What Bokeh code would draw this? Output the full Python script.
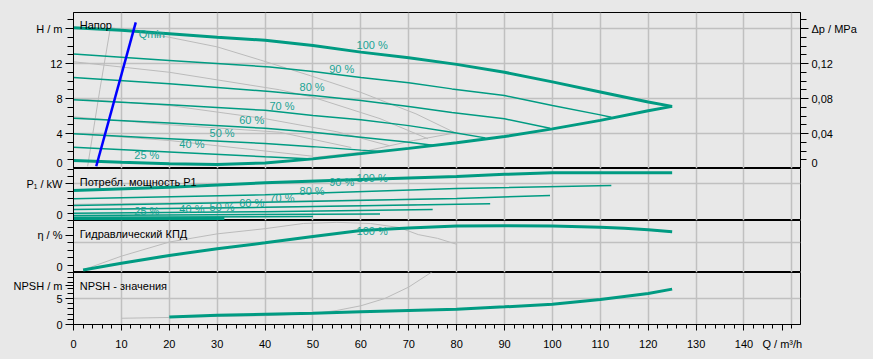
from bokeh.plotting import figure
from bokeh.models import Range1d, LinearAxis, FixedTicker, Grid, Label
from bokeh.layouts import column
from bokeh.embed import file_html
from bokeh.resources import INLINE

# ---------------- data ----------------
speed_labels = ["100 %", "90 %", "80 %", "70 %", "60 %", "50 %", "40 %", "25 %"]

# H-Q curves (Q in m3/h, H in m)
q_h100 = [0, 10, 20, 30, 40, 50, 60, 70, 80, 90, 100, 110, 120, 125]
h_h100 = [16.1, 15.8, 15.4, 15.0, 14.65, 14.05, 13.3, 12.65, 11.9, 11.0, 9.9, 8.75, 7.6, 7.1]
q_h90 = [0, 20, 41, 50, 60, 70, 79, 90, 100, 110, 112.3]
h_h90 = [13.1, 12.35, 11.6, 11.1, 10.4, 9.8, 9.1, 8.34, 7.2, 6.13, 5.87]
q_h80 = [0, 20, 41, 50, 60, 70, 79, 90, 99.5]
h_h80 = [10.4, 9.7, 8.8, 8.34, 7.77, 7.09, 6.4, 5.68, 4.6]
q_h70 = [0, 20, 40, 50, 60, 70, 79, 86]
h_h70 = [7.85, 7.3, 6.65, 6.06, 5.56, 4.9, 4.15, 3.5]
q_h60 = [0, 20, 40, 50, 60, 70, 75]
h_h60 = [5.75, 5.2, 4.6, 4.15, 3.58, 3.0, 2.65]
q_h50 = [0, 20, 40, 50, 60, 64]
h_h50 = [3.96, 3.4, 2.85, 2.5, 2.1, 1.95]
q_h40 = [0, 20, 40, 50]
h_h40 = [2.43, 1.9, 1.35, 1.1]
# 25 % curve joined with the max-flow limit
q_hmin = [0, 10, 20, 30, 40, 50, 60, 70, 80, 90, 100, 110, 120, 125]
h_hmin = [0.91, 0.72, 0.55, 0.46, 0.64, 1.1, 1.7, 2.3, 2.95, 3.65, 4.53, 5.5, 6.6, 7.1]
# Qmin line
q_qmin = [4.75, 13.0]
h_qmin = [0.26, 16.7]

# grey reference curves in the H panel
q_g_v = [7.7, 5.5, 2.95]
h_g_v = [16.1, 9.0, 0.25]
q_g1 = [7.7, 20, 30, 39, 49.5, 60, 71.5, 80]
h_g1 = [16.1, 15.0, 13.9, 12.4, 10.6, 8.7, 6.25, 4.0]
q_g2 = [0, 20, 43, 50, 64, 74]
h_g2 = [12.2, 11.0, 9.0, 8.15, 5.7, 3.4]
q_g3 = [0, 20, 40, 55, 66]
h_g3 = [8.0, 7.2, 5.7, 4.2, 2.6]
q_g4 = [0, 20, 43, 58]
h_g4 = [5.9, 5.0, 4.15, 2.4]
q_g5 = [0, 20, 40, 50]
h_g5 = [4.0, 3.2, 2.0, 1.4]
q_genv = [50, 60, 71, 80]
h_genv = [1.25, 1.87, 3.2, 4.1]

# power P1 (kW)
q_p100 = [0, 20, 40, 60, 70, 80, 90, 100, 125]
p_p100 = [4.1, 4.55, 5.14, 5.6, 5.8, 6.0, 6.3, 6.5, 6.5]
q_p90 = [0, 40, 80, 112.3]
p_p90 = [2.96, 3.5, 4.35, 4.77]
q_p80 = [0, 40, 80, 99.5]
p_p80 = [2.05, 2.5, 3.0, 3.41]
q_p70 = [0, 40, 87]
p_p70 = [1.5, 1.8, 2.27]
q_p60 = [0, 40, 75]
p_p60 = [1.0, 1.2, 1.5]
q_p50 = [0, 64]
p_p50 = [0.68, 0.9]
q_p40 = [0, 50]
p_p40 = [0.45, 0.55]
q_p25 = [0, 31.5]
p_p25 = [0.23, 0.27]
q_gp1 = [0, 40, 80]
p_gp1 = [2.2, 2.6, 3.0]
q_gp2 = [0, 40, 71.6]
p_gp2 = [1.5, 1.8, 2.14]

# hydraulic efficiency (%)
q_eta = [2, 10, 20, 30, 40, 50, 60, 70, 80, 90, 100, 110, 115, 120, 125]
eta = [3.5, 12.5, 23, 32, 40, 48.5, 56.5, 60, 62.5, 63, 62.5, 61, 59.5, 57.5, 55]
q_eta_g = [2, 10, 20, 30, 40, 48, 55, 62, 68, 72, 76, 80]
eta_g = [3.5, 22, 41, 52, 59, 66, 67.5, 66, 60.5, 51, 46, 38]

# NPSH (m)
q_npsh = [20, 30, 40, 50, 60, 70, 80, 90, 100, 110, 120, 125]
npsh = [1.45, 1.8, 1.98, 2.18, 2.43, 2.68, 2.94, 3.39, 3.9, 4.8, 5.96, 6.8]
q_npsh_g = [10, 20, 30, 40, 50, 55, 60, 65, 70, 75]
npsh_g = [1.2, 1.35, 1.55, 1.7, 2.1, 2.7, 3.6, 5.0, 7.2, 10.2]

x_grid_ticks = list(range(0, 151, 10))
x_label_ticks = list(range(0, 141, 10)) + [148]
x_minor_ticks = list(range(0, 152, 2))

# ---------------- style ----------------
BG = "#E8E8E8"
TEAL = "#009B82"
TEAL_TXT = "#1AA394"
GREY = "#BBBBBB"
GRID = "#C0C0C0"
FONT = "Liberation Sans"
FS = "11px"

XR = Range1d(0, 151.8)


def make_fig(frame_h, yr, top, bottom, xaxis=False):
    p = figure(frame_width=727, frame_height=frame_h, x_range=XR, y_range=yr,
               output_backend="svg", toolbar_location=None,
               x_axis_location="below" if xaxis else None,
               min_border_left=73, min_border_right=60,
               min_border_top=top, min_border_bottom=bottom,
               background_fill_color=BG, border_fill_color=BG,
               outline_line_color="black", outline_line_width=1)
    p.xgrid.grid_line_color = None
    p.ygrid.grid_line_color = None
    p.add_layout(Grid(dimension=0, ticker=FixedTicker(ticks=x_grid_ticks),
                      grid_line_color=GRID, grid_line_width=1.5))
    return p


def style_axis(ax, ticks, minor, overrides, standoff=3):
    ax.ticker = FixedTicker(ticks=ticks, minor_ticks=minor)
    ax.major_label_overrides = overrides
    ax.major_tick_in = 0
    ax.major_tick_out = 8
    ax.minor_tick_in = 0
    ax.minor_tick_out = 6
    ax.major_label_text_font = FONT
    ax.major_label_text_font_size = FS
    ax.major_label_text_color = "black"
    ax.axis_line_color = "black"
    ax.major_tick_line_color = "black"
    ax.minor_tick_line_color = "black"
    ax.major_label_standoff = standoff


def hgrid(p, ticks):
    p.add_layout(Grid(dimension=1, ticker=FixedTicker(ticks=ticks),
                      grid_line_color=GRID, grid_line_width=1.5))


def txt(p, x, y, s, color="black", align="left"):
    p.add_layout(Label(x=x, y=y, text=s, text_font=FONT, text_font_size=FS,
                       text_color=color, text_align=align, text_baseline="middle"))


# ---------- panel 1 : head ----------
p1 = make_fig(156, Range1d(0, 17.83), 12, 0)
hgrid(p1, [4, 8, 12, 16])
style_axis(p1.yaxis[0], [0, 4, 8, 12, 16], list(range(0, 18)), {16: "H / m"})
p1.extra_y_ranges = {"dp": Range1d(0, 0.1783)}
ax_dp = LinearAxis(y_range_name="dp")
style_axis(ax_dp, [0, 0.04, 0.08, 0.12, 0.16], [i / 100 for i in range(0, 18)],
           {0: "0", 0.04: "0,04", 0.08: "0,08", 0.12: "0,12", 0.16: "Δp / MPa"})
p1.add_layout(ax_dp, "right")

for qx, hy in [(q_g_v, h_g_v), (q_g1, h_g1), (q_g2, h_g2), (q_g3, h_g3),
               (q_g4, h_g4), (q_g5, h_g5), (q_genv, h_genv)]:
    p1.line(qx, hy, line_color=GREY, line_width=1)
for qx, hy in [(q_h90, h_h90), (q_h80, h_h80), (q_h70, h_h70), (q_h60, h_h60),
               (q_h50, h_h50), (q_h40, h_h40)]:
    p1.line(qx, hy, line_color=TEAL, line_width=1.5)
p1.line(q_h100, h_h100, line_color=TEAL, line_width=3)
p1.line(q_hmin, h_hmin, line_color=TEAL, line_width=3)
p1.line(q_qmin, h_qmin, line_color="#0000FF", line_width=2.5)

txt(p1, 1.3, 16.4, "Напор")
txt(p1, 13.6, 15.4, "Qmin", TEAL_TXT)
for s, (qx, hy) in zip(speed_labels, [(59.1, 14.06), (53.4, 11.4), (47.2, 9.3), (40.9, 7.2),
                                       (34.6, 5.49), (28.4, 4.11), (22.1, 2.82), (12.7, 1.6)]):
    txt(p1, qx, hy, s, TEAL_TXT)

# ---------- panel 2 : power ----------
p2 = make_fig(52, Range1d(0, 7.09), 0, 0)
hgrid(p2, [5])
style_axis(p2.yaxis[0], [0, 5], list(range(0, 8)), {5: "P₁ / kW"})
for qx, py in [(q_gp1, p_gp1), (q_gp2, p_gp2)]:
    p2.line(qx, py, line_color=GREY, line_width=1)
for qx, py in [(q_p90, p_p90), (q_p80, p_p80), (q_p70, p_p70), (q_p60, p_p60),
               (q_p50, p_p50), (q_p40, p_p40)]:
    p2.line(qx, py, line_color=TEAL, line_width=1.5)
p2.line(q_p100, p_p100, line_color=TEAL, line_width=3)
p2.line(q_p25, p_p25, line_color=TEAL, line_width=3)
txt(p2, 1.3, 5.22, "Потребл. мощность P1")
for s, (qx, py) in zip(speed_labels, [(59.1, 5.77), (53.4, 5.22), (47.2, 3.96), (40.9, 3.04),
                                       (34.6, 2.41), (28.4, 1.81), (22.1, 1.6), (12.7, 1.27)]):
    txt(p2, qx, py, s, TEAL_TXT)

# ---------- panel 3 : efficiency ----------
p3 = make_fig(52, Range1d(0, 70), 0, 0)
hgrid(p3, [40])
style_axis(p3.yaxis[0], [0, 50], list(range(0, 71, 10)), {50: "η / %"})
p3.line(q_eta_g, eta_g, line_color=GREY, line_width=1)
p3.line(q_eta, eta, line_color=TEAL, line_width=3)
txt(p3, 1.3, 51.7, "Гидравлический КПД")
txt(p3, 59.1, 55.2, "100 %", TEAL_TXT)

# ---------- panel 4 : NPSH ----------
p4 = make_fig(52, Range1d(0, 10), 0, 26, xaxis=True)
hgrid(p4, [5])
style_axis(p4.yaxis[0], [0, 5, 7.5], list(range(0, 11)), {7.5: "NPSH / m"})
xa = p4.xaxis[0]
xa.ticker = FixedTicker(ticks=x_label_ticks, minor_ticks=x_minor_ticks)
xa.major_label_overrides = {148: "Q / m³/h"}
xa.major_tick_in = 0
xa.major_tick_out = 6
xa.minor_tick_in = 0
xa.minor_tick_out = 4
xa.major_label_text_font = FONT
xa.major_label_text_font_size = FS
xa.major_label_text_color = "black"
xa.axis_line_color = "black"
xa.major_tick_line_color = "black"
xa.minor_tick_line_color = "black"
xa.major_label_standoff = 7
p4.line(q_npsh_g, npsh_g, line_color=GREY, line_width=1)
p4.line(q_npsh, npsh, line_color=TEAL, line_width=3)
txt(p4, 1.3, 7.42, "NPSH - значения")

layout = column(p1, p2, p3, p4, spacing=0)
html = file_html(layout, INLINE)
html = html.replace("</head>", "<style>html,body{background:#E8E8E8;}</style></head>", 1)
open("out.html", "w").write(html)
